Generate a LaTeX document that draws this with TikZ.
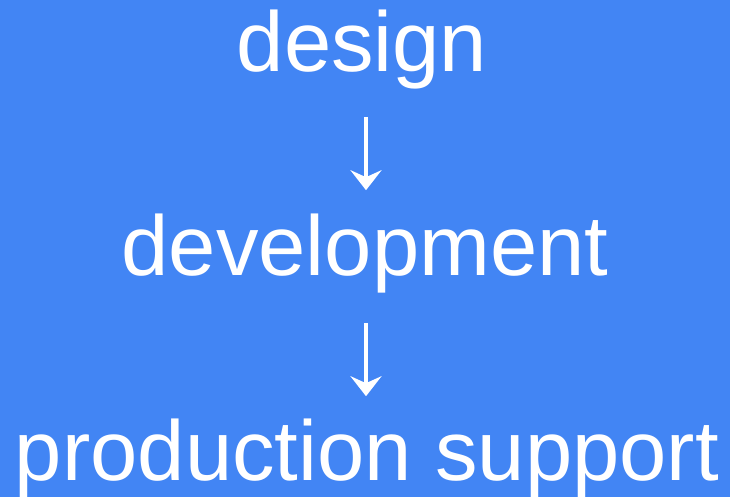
\documentclass[tikz,border=0pt]{standalone}
\usepackage{fontspec}
\setmainfont{Liberation Sans}
\usetikzlibrary{arrows.meta}
\definecolor{bgblue}{RGB}{66,133,244}
\tikzset{
  stage/.style={text=white, inner sep=0pt, anchor=base, font=\fontsize{85bp}{102bp}\selectfont},
  flow/.style={white, line width=3.6bp, -{Stealth[length=20bp, width=31bp, inset=7bp]}}
}
\begin{document}
\begin{tikzpicture}[x=1bp, y=-1bp]
\fill[bgblue] (0,0) rectangle (730,497);
\useasboundingbox (0,0) rectangle (730,497);
\node[stage] (design) at (362,72) {design};
\node[stage] (development) at (365,276) {development};
\node[stage] (support) at (367,480) {production support};
\draw[flow, shorten <=27bp, shorten >=24bp] (design.south -| 366,0) -- (development.north -| 366,0);
\draw[flow, shorten <=29bp, shorten >=22bp] (development.south -| 366,0) -- (support.north -| 366,0);
\end{tikzpicture}
\end{document}
